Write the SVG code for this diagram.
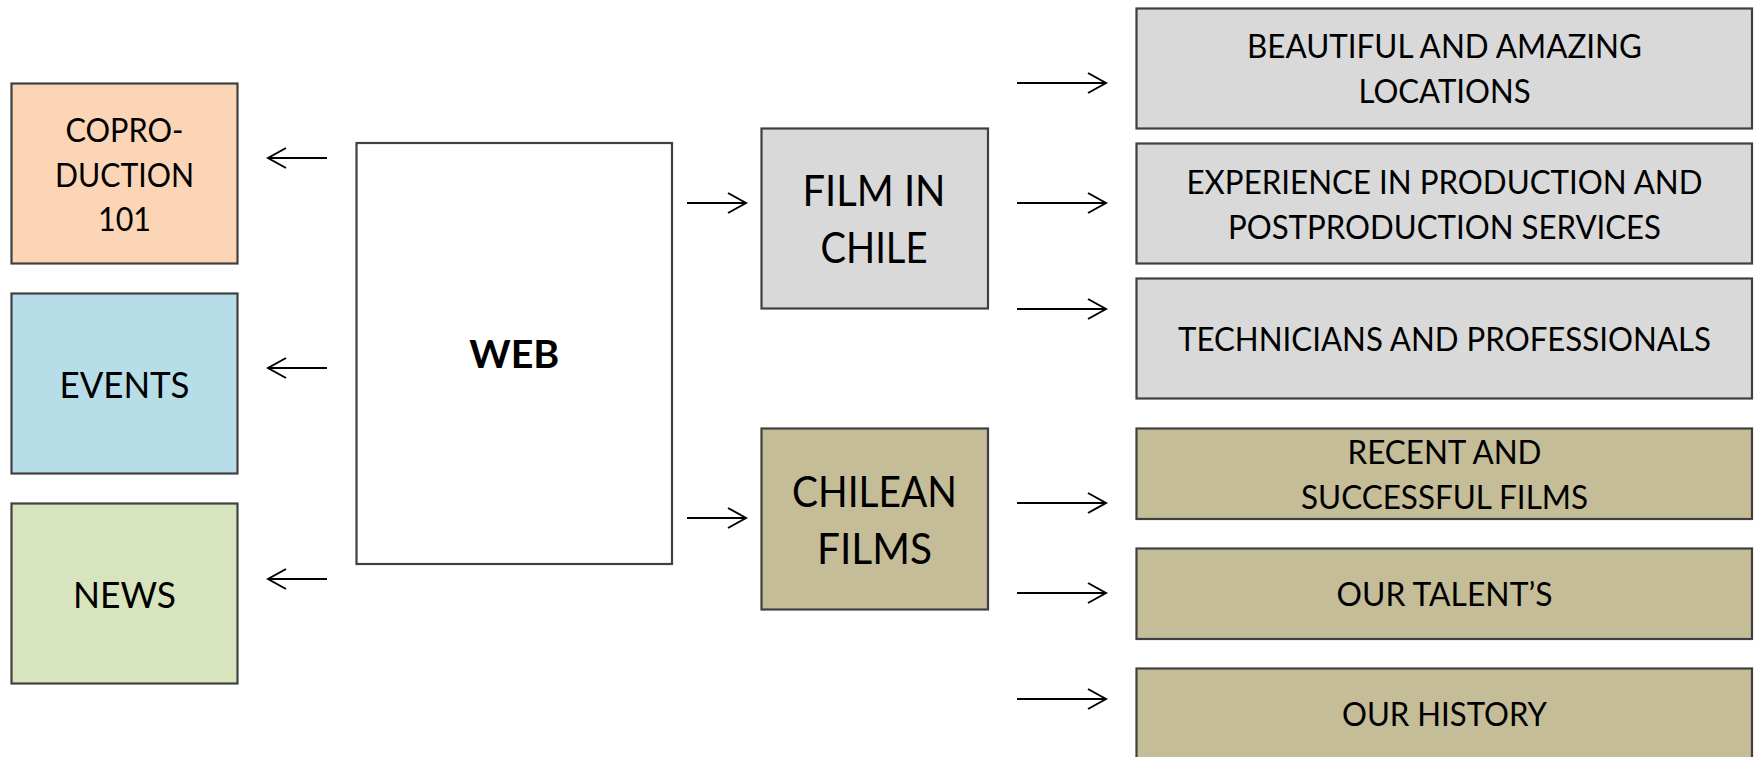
<svg xmlns="http://www.w3.org/2000/svg" width="1754" height="757" viewBox="0 0 1754 757">
  <style>
    .box { stroke: #404040; stroke-width: 2.2; }
    .t { font-family: Lato, "Open Sans", "Liberation Sans", sans-serif; fill: #000; text-anchor: middle; }
    .r { font-size: 33px; }
    .m { font-size: 42.5px; }
    .c { font-size: 32px; }
    .e { font-size: 36.5px; }
    .w { font-size: 38.5px; font-weight: bold; }
    .peach { fill: #FBD5B5; }
    .blue { fill: #B7DEE8; }
    .green { fill: #D7E4BD; }
    .grey { fill: #D9D9D9; }
    .olive { fill: #C4BD97; }
    .white { fill: #FFFFFF; }
    .conn line { stroke: #000; stroke-width: 2; marker-end: url(#arrow); }
  </style>
  <defs>
    <marker id="arrow" markerUnits="userSpaceOnUse" viewBox="0 0 22 24" refX="20" refY="12" markerWidth="22" markerHeight="24" orient="auto">
      <path d="M2,2 L20,12 L2,22" fill="none" stroke="#000" stroke-width="2"/>
    </marker>
  </defs>
  <rect width="1754" height="757" fill="#FFFFFF"/>

  <g id="copro">
    <rect class="box peach" x="11.5" y="83.5" width="226" height="180"/>
    <text class="t c" x="124.5" y="142" textLength="118" lengthAdjust="spacingAndGlyphs">COPRO-</text>
    <text class="t c" x="124.5" y="187" textLength="139" lengthAdjust="spacingAndGlyphs">DUCTION</text>
    <text class="t c" x="124.5" y="231" textLength="53" lengthAdjust="spacingAndGlyphs">101</text>
  </g>
  <g id="events">
    <rect class="box blue" x="11.5" y="293.5" width="226" height="180"/>
    <text class="t e" x="124.5" y="398" textLength="130" lengthAdjust="spacingAndGlyphs">EVENTS</text>
  </g>
  <g id="news">
    <rect class="box green" x="11.5" y="503.5" width="226" height="180"/>
    <text class="t e" x="124.5" y="608" textLength="103" lengthAdjust="spacingAndGlyphs">NEWS</text>
  </g>
  <g id="web">
    <rect class="box white" x="356.5" y="143" width="315.5" height="421"/>
    <text class="t w" x="514.3" y="368" textLength="90" lengthAdjust="spacingAndGlyphs">WEB</text>
  </g>
  <g id="film-in-chile">
    <rect class="box grey" x="761.5" y="128.5" width="226.5" height="180"/>
    <text class="t m" x="874" y="206" textLength="143" lengthAdjust="spacingAndGlyphs">FILM IN</text>
    <text class="t m" x="874" y="263" textLength="107" lengthAdjust="spacingAndGlyphs">CHILE</text>
  </g>
  <g id="chilean-films">
    <rect class="box olive" x="761.5" y="428.5" width="226.5" height="181"/>
    <text class="t m" x="874.5" y="507" textLength="165" lengthAdjust="spacingAndGlyphs">CHILEAN</text>
    <text class="t m" x="874.5" y="564" textLength="115" lengthAdjust="spacingAndGlyphs">FILMS</text>
  </g>
  <g id="locations">
    <rect class="box grey" x="1136.5" y="8.5" width="615.5" height="120"/>
    <text class="t r" x="1444.5" y="58" textLength="395" lengthAdjust="spacingAndGlyphs">BEAUTIFUL AND AMAZING</text>
    <text class="t r" x="1444.5" y="103" textLength="172" lengthAdjust="spacingAndGlyphs">LOCATIONS</text>
  </g>
  <g id="experience">
    <rect class="box grey" x="1136.5" y="143.5" width="615.5" height="120"/>
    <text class="t r" x="1444.5" y="194" textLength="516" lengthAdjust="spacingAndGlyphs">EXPERIENCE IN PRODUCTION AND</text>
    <text class="t r" x="1444.5" y="239" textLength="433" lengthAdjust="spacingAndGlyphs">POSTPRODUCTION SERVICES</text>
  </g>
  <g id="technicians">
    <rect class="box grey" x="1136.5" y="278.5" width="615.5" height="120"/>
    <text class="t r" x="1444.5" y="351" textLength="533" lengthAdjust="spacingAndGlyphs">TECHNICIANS AND PROFESSIONALS</text>
  </g>
  <g id="recent-films">
    <rect class="box olive" x="1136.5" y="428.5" width="615.5" height="90.5"/>
    <text class="t r" x="1444.5" y="464" textLength="194" lengthAdjust="spacingAndGlyphs">RECENT AND</text>
    <text class="t r" x="1444.5" y="509" textLength="287" lengthAdjust="spacingAndGlyphs">SUCCESSFUL FILMS</text>
  </g>
  <g id="talent">
    <rect class="box olive" x="1136.5" y="548.5" width="615.5" height="90.5"/>
    <text class="t r" x="1444.5" y="606" textLength="216" lengthAdjust="spacingAndGlyphs">OUR TALENT’S</text>
  </g>
  <g id="history">
    <rect class="box olive" x="1136.5" y="668.5" width="615.5" height="100"/>
    <text class="t r" x="1444.5" y="726" textLength="205" lengthAdjust="spacingAndGlyphs">OUR HISTORY</text>
  </g>

  <g id="connectors" class="conn">
    <line x1="327" y1="158" x2="268" y2="158"/>
    <line x1="327" y1="368" x2="268" y2="368"/>
    <line x1="327" y1="579" x2="268" y2="579"/>
    <line x1="687" y1="203" x2="746" y2="203"/>
    <line x1="687" y1="518" x2="746" y2="518"/>
    <line x1="1017" y1="83" x2="1106" y2="83"/>
    <line x1="1017" y1="203" x2="1106" y2="203"/>
    <line x1="1017" y1="309" x2="1106" y2="309"/>
    <line x1="1017" y1="503" x2="1106" y2="503"/>
    <line x1="1017" y1="593" x2="1106" y2="593"/>
    <line x1="1017" y1="699" x2="1106" y2="699"/>
  </g>
</svg>
